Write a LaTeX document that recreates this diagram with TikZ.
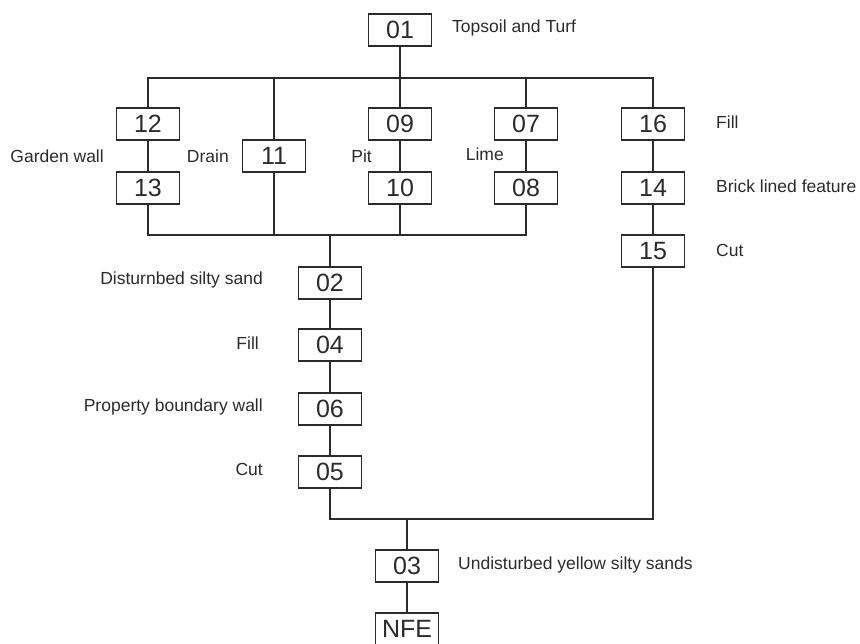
\documentclass[tikz,border=0pt]{standalone}
\usepackage{fontspec}
\setmainfont{Liberation Sans}
\usetikzlibrary{positioning, calc}
\definecolor{ink}{HTML}{2B2B2B}

\tikzset{
  unit/.style={draw=ink, line width=1.6pt, minimum width=63pt, minimum height=32pt,
    inner sep=0pt, text=ink, font=\fontsize{25}{27}\selectfont},
  note/.style={text=ink, inner sep=0pt, font=\fontsize{17.5}{19}\selectfont},
  link/.style={draw=ink, line width=1.6pt}
}

\begin{document}
\begin{tikzpicture}[x=1pt, y=-1pt]
  \useasboundingbox (0,0) rectangle (860,644);

  % Oberste Schicht
  \node[unit] (n01) at (400,30) {01};
  \node[note, anchor=west] (l01) at (452,28) {Topsoil and Turf};

  % Obere Befunde
  \node[unit] (n12) at (148,124) {12};
  \node[unit] (n13) at (148,188) {13};
  \node[unit] (n11) at (274,156) {11};
  \node[unit] (n09) at (400,124) {09};
  \node[unit] (n10) at (400,188) {10};
  \node[unit] (n07) at (526,124) {07};
  \node[unit] (n08) at (526,188) {08};
  \node[unit] (n16) at (653,124) {16};
  \node[unit] (n14) at (653,188) {14};
  \node[unit] (n15) at (653,251) {15};

  \node[note, anchor=east] (l12) at (104,156) {Garden wall};
  \node[note, anchor=east] (l11) at (229,156) {Drain};
  \node[note, anchor=east] (l09) at (372,156) {Pit};
  \node[note, anchor=east] (l07) at (504,154) {Lime};
  \node[note, anchor=west] (l16) at (716,122) {Fill};
  \node[note, anchor=west] (l14) at (716,186) {Brick lined feature};
  \node[note, anchor=west] (l15) at (716,250) {Cut};

  % Mittlere Abfolge
  \node[unit] (n02) at (330,283) {02};
  \node[unit] (n04) at (330,345) {04};
  \node[unit] (n06) at (330,409) {06};
  \node[unit] (n05) at (330,472) {05};

  \node[note, anchor=east] (l02) at (263,280) {Disturnbed silty sand};
  \node[note, anchor=east] (l04) at (259,343) {Fill};
  \node[note, anchor=east] (l06) at (263,407) {Property boundary wall};
  \node[note, anchor=east] (l05) at (263,469) {Cut};

  % Anstehender Boden
  \node[unit] (n03) at (407,566) {03};
  \node[unit] (nfe) at (407,629) {NFE};
  \node[note, anchor=west] (l03) at (458,565) {Undisturbed yellow silty sands};

  % Verbindungen
  \coordinate (bartop) at (400,78);
  \coordinate (barmid) at (330,235);
  \coordinate (barbot) at (407,519);

  \draw[link] (n01) -- (bartop);
  \draw[link] (n12.north) |- (bartop) -| (n16.north);
  \draw[link] (bartop) -- (n09);
  \draw[link] (n11.north) -- (n11 |- bartop);
  \draw[link] (n07.north) -- (n07 |- bartop);

  \draw[link] (n12) -- (n13);
  \draw[link] (n09) -- (n10);
  \draw[link] (n07) -- (n08);
  \draw[link] (n16) -- (n14) -- (n15);

  \draw[link] (n13.south) |- (barmid) -| (n08.south);
  \draw[link] (n11.south) -- (n11 |- barmid);
  \draw[link] (n10.south) -- (n10 |- barmid);
  \draw[link] (barmid) -- (n02);

  \draw[link] (n02) -- (n04) -- (n06) -- (n05);

  \draw[link] (n05.south) |- (barbot) -| (n15.south);
  \draw[link] (barbot) -- (n03) -- (nfe);
\end{tikzpicture}
\end{document}
